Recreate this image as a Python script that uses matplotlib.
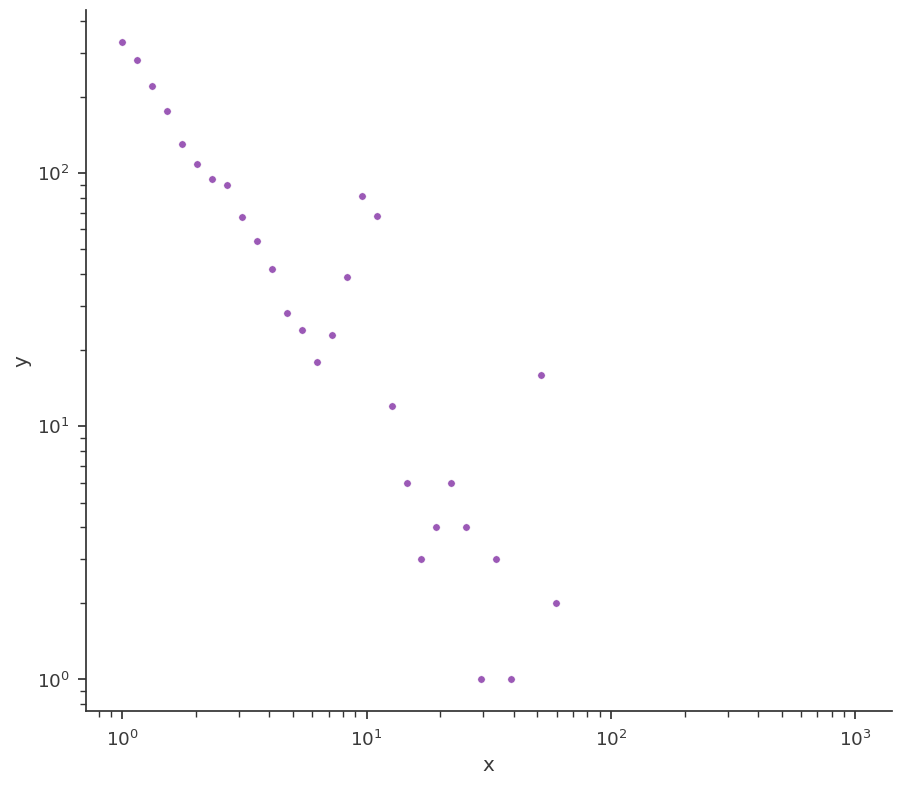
import matplotlib
matplotlib.use('Agg')
import matplotlib.pyplot as plt
import seaborn as sns
import numpy as np

# bin centres (log spaced) and counts
x_vals = [1.0, 1.151, 1.326, 1.526, 1.758, 2.024, 2.330, 2.683, 3.089, 3.556,
          4.095, 4.715, 5.429, 6.251, 7.197, 8.286, 9.541, 10.985, 12.649, 14.563,
          16.768, 19.307, 22.230, 25.595, 29.471, 33.932, 39.069, 51.795, 59.636]
y_vals = [330, 280, 221, 177, 130, 109, 95, 90, 67, 54,
          42, 28, 24, 18, 23, 39, 81, 68, 12, 6,
          3, 4, 6, 4, 1, 3, 1, 16, 2]
x_range = [1.0, 1000.0]

sns.set_theme(style='ticks', font_scale=1.2)
plt.rcParams.update({'text.color': '#3a3a3a', 'axes.labelcolor': '#3a3a3a',
                     'xtick.labelcolor': '#3a3a3a', 'ytick.labelcolor': '#3a3a3a',
                     'axes.edgecolor': '#333333', 'xtick.color': '#333333',
                     'ytick.color': '#333333'})
plt.rcParams['xtick.major.pad'] = plt.rcParams['xtick.major.pad'] + 4
plt.rcParams['ytick.major.pad'] = plt.rcParams['ytick.major.pad'] + 2

fig, ax = plt.subplots(figsize=(9.01, 7.86), dpi=100)
fig.subplots_adjust(left=0.095, right=0.99, top=0.987, bottom=0.095)

ax.scatter(x_vals, y_vals, s=28, color='#9b59b6', edgecolor='white', linewidth=0.3, zorder=3)
ax.set_xscale('log')
ax.set_yscale('log')

# x extent follows the full bin range, with 5% log margins
lo, hi = np.log10(x_range)
pad = 0.05 * (hi - lo)
ax.set_xlim(10 ** (lo - pad), 10 ** (hi + pad))

ax.set_xlabel('x')
ax.set_ylabel('y')
sns.despine(ax=ax)

fig.savefig('out.png', dpi=100)
